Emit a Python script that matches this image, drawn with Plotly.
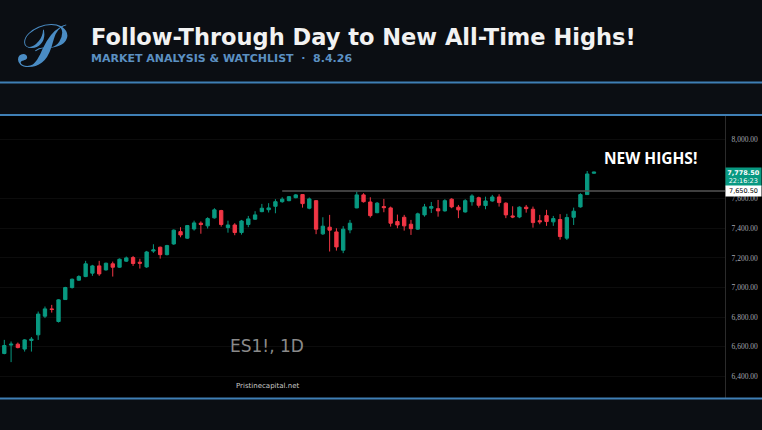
import plotly.graph_objects as go

# Daily ES1! candles (index 0 is cut by the left edge)
opens = [6540, 6555, 6612, 6618, 6585, 6643, 6681, 6807, 6856, 6771,
         6919, 7000, 7050, 7074, 7097, 7146, 7119, 7160, 7137, 7178,
         7202, 7171, 7139, 7246, 7272, 7222, 7294, 7377, 7333, 7395,
         7434, 7416, 7470, 7519, 7404, 7422, 7371, 7425, 7461, 7512,
         7525, 7548, 7579, 7586, 7606, 7627, 7535, 7586, 7362, 7407,
         7375, 7252, 7389, 7537, 7625, 7577, 7505, 7546, 7537, 7445,
         7474, 7427, 7394, 7490, 7535, 7532, 7517, 7596, 7542, 7510,
         7579, 7606, 7553, 7584, 7611, 7569, 7483, 7476, 7542, 7528,
         7451, 7485, 7443, 7459, 7333, 7474, 7544, 7627, 7771]
highs = [6590, 6647, 6636, 6629, 6652, 6666, 6838, 6872, 6883, 6921,
         7005, 7061, 7083, 7180, 7153, 7180, 7168, 7175, 7196, 7209,
         7213, 7194, 7247, 7292, 7276, 7288, 7392, 7407, 7422, 7451,
         7446, 7474, 7535, 7524, 7451, 7434, 7456, 7483, 7515, 7564,
         7569, 7596, 7609, 7617, 7631, 7628, 7607, 7590, 7474, 7490,
         7400, 7414, 7456, 7647, 7636, 7609, 7577, 7598, 7546, 7492,
         7490, 7456, 7505, 7564, 7577, 7591, 7596, 7602, 7557, 7596,
         7629, 7613, 7613, 7625, 7629, 7575, 7548, 7548, 7557, 7546,
         7490, 7524, 7483, 7495, 7497, 7539, 7636, 7786, 7781]
lows = [6410, 6550, 6497, 6590, 6568, 6568, 6647, 6794, 6831, 6764,
        6917, 6993, 7045, 7070, 7079, 7079, 7114, 7074, 7133, 7173,
        7146, 7128, 7133, 7234, 7195, 7217, 7288, 7339, 7328, 7384,
        7363, 7398, 7465, 7411, 7370, 7353, 7357, 7407, 7456, 7508,
        7506, 7501, 7572, 7582, 7602, 7539, 7528, 7360, 7355, 7243,
        7249, 7232, 7366, 7535, 7573, 7472, 7501, 7508, 7411, 7400,
        7384, 7355, 7389, 7478, 7503, 7478, 7512, 7535, 7468, 7505,
        7552, 7539, 7528, 7579, 7546, 7468, 7468, 7468, 7505, 7404,
        7427, 7416, 7416, 7323, 7321, 7422, 7539, 7625, 7768]
closes = [6575, 6609, 6618, 6595, 6647, 6652, 6821, 6856, 6852, 6917,
          7000, 7056, 7074, 7160, 7146, 7092, 7164, 7137, 7191, 7200,
          7162, 7164, 7240, 7254, 7222, 7283, 7387, 7355, 7418, 7436,
          7425, 7465, 7524, 7425, 7422, 7371, 7449, 7463, 7490, 7535,
          7537, 7579, 7596, 7613, 7625, 7566, 7598, 7394, 7414, 7387,
          7274, 7394, 7434, 7625, 7579, 7485, 7569, 7539, 7434, 7422,
          7416, 7397, 7497, 7544, 7546, 7517, 7586, 7544, 7524, 7586,
          7618, 7555, 7584, 7611, 7573, 7490, 7476, 7542, 7532, 7438,
          7443, 7445, 7465, 7344, 7472, 7515, 7627, 7766, 7778.5]
bars = list(range(len(closes)))

# 7,800 sits under the last-price label, so it is left out
price_ticks = [6400, 6600, 6800, 7000, 7200, 7400, 7600, 8000]
level = 7650.50          # prior high, drawn from the bar it was set on
level_start = 42
countdown = "22:16:23"

UP = "#089981"
DOWN = "#f23645"
BLUE = "#3f7fb5"
HEADER = "#0b0e13"

fig = go.Figure()
fig.add_trace(go.Candlestick(
    x=bars, open=opens, high=highs, low=lows, close=closes,
    increasing=dict(line=dict(color=UP, width=1), fillcolor=UP),
    decreasing=dict(line=dict(color=DOWN, width=1), fillcolor=DOWN),
    showlegend=False, hoverinfo="skip",
))

x_dom_end = 725 / 762
x_end = 107.33
fig.update_layout(
    width=762, height=430,
    margin=dict(l=0, r=0, t=0, b=0),
    paper_bgcolor=HEADER,
    plot_bgcolor="#000000",
    showlegend=False,
    xaxis=dict(domain=[0, x_dom_end], range=[0.366, x_end], visible=False,
               rangeslider=dict(visible=False), fixedrange=True),
    yaxis=dict(domain=[1 - 398 / 430, 1 - 116 / 430], range=[6255, 8157],
               side="right", tickvals=price_ticks, tickformat=",.2f",
               tickfont=dict(family="Liberation Serif", size=7.5, color="#a3a7b0"),
               ticklabelstandoff=4,
               showgrid=True, gridcolor="#0c0c0c", zeroline=False,
               showline=True, linecolor="#2b2b2b", linewidth=1),
)

# black chart band and the blue rules of the card
fig.add_shape(type="rect", xref="paper", yref="paper", x0=0, x1=1,
              y0=1 - 398 / 430, y1=1 - 116 / 430, fillcolor="#000000",
              line_width=0, layer="below")
for yp in [82.5, 115, 398.5]:
    fig.add_shape(type="line", xref="paper", yref="paper", x0=0, x1=1,
                  y0=1 - yp / 430, y1=1 - yp / 430, line=dict(color=BLUE, width=2))

# prior all-time-high level
fig.add_shape(type="line", xref="x", yref="y", x0=level_start, x1=x_end,
              y0=level, y1=level, line=dict(color="#555555", width=1.5))

# price labels on the axis
fig.add_annotation(xref="paper", yref="y", x=x_dom_end, y=closes[-1], xanchor="left",
                   yanchor="top", yshift=5, showarrow=False,
                   text=f"<b>{closes[-1]:,.2f}</b><br>{countdown}", align="center",
                   width=33, bgcolor=UP, borderpad=1,
                   font=dict(family="DejaVu Sans", size=6.5, color="#ffffff"))
fig.add_annotation(xref="paper", yref="y", x=x_dom_end, y=level, xanchor="left",
                   yanchor="middle", showarrow=False, text=f"{level:,.2f}",
                   width=33, bgcolor="#ffffff", borderpad=1,
                   font=dict(family="DejaVu Sans", size=6.5, color="#000000"))

# chart texts
fig.add_annotation(xref="paper", yref="paper", x=650 / 762, y=1 - 158 / 430,
                   xanchor="center", yanchor="middle",
                   text="<b>NEW HIGHS!</b>", showarrow=False,
                   font=dict(family="Open Sans", size=15.5, color="#ffffff"))
fig.add_annotation(xref="paper", yref="paper", x=267 / 762, y=1 - 346 / 430,
                   xanchor="center", yanchor="middle",
                   text="ES1!, 1D", showarrow=False,
                   font=dict(family="DejaVu Sans", size=17, color="#8a8a8a"))
fig.add_annotation(xref="paper", yref="paper", x=267 / 762, y=1 - 386 / 430,
                   xanchor="center", yanchor="middle",
                   text="Pristinecapital.net", showarrow=False,
                   font=dict(family="DejaVu Sans", size=7, color="#c8c8c8"))

# header
fig.add_annotation(xref="paper", yref="paper", x=43 / 762, y=1 - 45 / 430,
                   xanchor="center", yanchor="middle",
                   text="𝒫", showarrow=False,
                   font=dict(family="DejaVu Serif", size=60, color="#4a8cc4"))
fig.add_annotation(xref="paper", yref="paper", x=89 / 762, y=1 - 37 / 430,
                   xanchor="left", yanchor="middle",
                   text="<b>Follow-Through Day to New All-Time Highs!</b>",
                   showarrow=False,
                   font=dict(family="DejaVu Sans", size=22.5, color="#f2f2f2"))
fig.add_annotation(xref="paper", yref="paper", x=89 / 762, y=1 - 58 / 430,
                   xanchor="left", yanchor="middle",
                   text="<b>MARKET ANALYSIS &amp; WATCHLIST  ·  8.4.26</b>",
                   showarrow=False,
                   font=dict(family="DejaVu Sans", size=11, color="#5b90c2"))

fig.write_html("out.html", config={"displayModeBar": False},
               post_script="document.body.style.margin='0';")
